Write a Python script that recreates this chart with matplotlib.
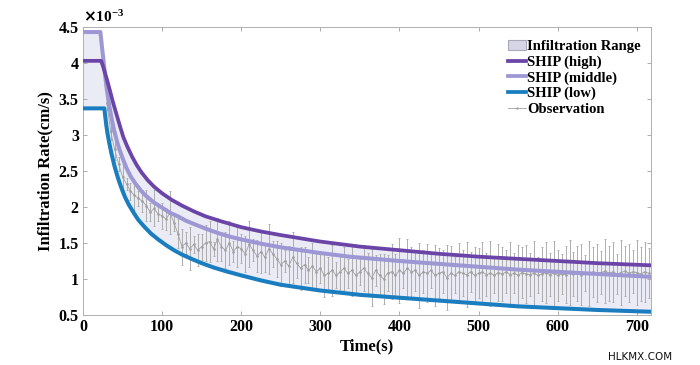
import numpy as np
import matplotlib
matplotlib.use("Agg")
import matplotlib.pyplot as plt
from matplotlib.patches import Patch
from matplotlib.lines import Line2D

# ---- data (values in units of 1e-3 cm/s) ----
t_high = [0, 23, 26, 30, 34, 38, 42, 46, 51, 56, 62, 68, 74, 82, 90, 100, 112, 125, 140,
          155, 175, 200, 225, 250, 300, 350, 400, 450, 500, 550, 600, 650, 718]
v_high = [4.03, 4.03, 3.93, 3.78, 3.62, 3.45, 3.30, 3.15, 2.97, 2.84, 2.70, 2.58, 2.48, 2.37,
          2.28, 2.19, 2.10, 2.02, 1.94, 1.87, 1.80, 1.72, 1.66, 1.61, 1.52, 1.45, 1.40, 1.35,
          1.31, 1.28, 1.25, 1.22, 1.19]

t_mid = [0, 22, 24, 26, 28, 30, 33, 36, 39, 42.5, 46, 50, 55, 60, 66, 73, 80, 90, 100, 110,
         120, 130, 141, 155, 170, 185, 200, 225, 250, 300, 337, 400, 450, 500, 550, 600, 650, 718]
v_mid = [4.43, 4.43, 4.22, 4.03, 3.82, 3.64, 3.42, 3.24, 3.08, 2.93, 2.80, 2.68, 2.54, 2.43,
         2.33, 2.23, 2.15, 2.06, 1.99, 1.92, 1.87, 1.81, 1.76, 1.70, 1.64, 1.59, 1.55, 1.49,
         1.44, 1.36, 1.31, 1.25, 1.21, 1.17, 1.13, 1.10, 1.07, 1.03]

t_low = [0, 27, 28, 29.5, 31, 33, 36, 40, 44, 48, 53, 58, 64, 70, 78, 86, 95, 105, 115, 125,
         137, 150, 165, 180, 200, 225, 250, 275, 300, 350, 400, 450, 500, 550, 600, 650, 718]
v_low = [3.37, 3.37, 3.27, 3.13, 3.02, 2.90, 2.74, 2.56, 2.41, 2.28, 2.14, 2.03, 1.92, 1.82,
         1.72, 1.63, 1.55, 1.47, 1.40, 1.34, 1.28, 1.22, 1.16, 1.11, 1.05, 0.98, 0.92, 0.88,
         0.84, 0.78, 0.74, 0.70, 0.66, 0.62, 0.595, 0.57, 0.545]

t_obs = list(range(30, 716, 5))
v_obs = [3.45, 3.05, 2.80, 2.60, 2.42, 2.32, 2.22, 2.16, 2.12, 2.08,
         2.02, 1.93, 1.98, 1.90, 1.88, 1.83, 1.92, 1.78, 1.63, 1.45,
         1.50, 1.42, 1.48, 1.40, 1.45, 1.50, 1.52, 1.42, 1.55, 1.45,
         1.40, 1.50, 1.38, 1.45, 1.42, 1.35, 1.48, 1.40, 1.32, 1.38,
         1.30, 1.42, 1.35, 1.28, 1.20, 1.25, 1.18, 1.30, 1.22, 1.15,
         1.20, 1.12, 1.18, 1.10, 1.15, 1.05, 1.08, 1.12, 1.05, 1.10,
         1.15, 1.08, 1.12, 1.05, 1.10, 1.15, 1.08, 1.02, 1.12, 1.05,
         1.00, 1.08, 1.10, 1.05, 1.12, 1.08, 1.15, 1.10, 1.12, 1.05,
         1.10, 1.08, 1.12, 1.05, 1.08, 1.10, 1.02, 1.08, 1.05, 1.10,
         1.08, 1.06, 1.10, 1.05, 1.08, 1.10, 1.06, 1.08, 1.05, 1.09,
         1.07, 1.10, 1.06, 1.08, 1.05, 1.09, 1.07, 1.06, 1.08, 1.05,
         1.07, 1.09, 1.06, 1.08, 1.05, 1.07, 1.06, 1.09, 1.07, 1.08,
         1.06, 1.09, 1.08, 1.10, 1.08, 1.09, 1.11, 1.08, 1.10, 1.07,
         1.09, 1.11, 1.08, 1.10, 1.09, 1.07, 1.10, 1.08]
e_obs = [0.10, 0.12, 0.15, 0.10, 0.18, 0.08, 0.12, 0.20, 0.10, 0.15,
         0.22, 0.12, 0.25, 0.10, 0.18, 0.15, 0.30, 0.12, 0.20, 0.25,
         0.15, 0.30, 0.12, 0.22, 0.18, 0.25, 0.28, 0.10, 0.30, 0.20,
         0.25, 0.30, 0.15, 0.28, 0.20, 0.25, 0.32, 0.15, 0.22, 0.30,
         0.20, 0.35, 0.18, 0.25, 0.30, 0.15, 0.28, 0.35, 0.20, 0.30,
         0.25, 0.18, 0.32, 0.25, 0.20, 0.30, 0.22, 0.35, 0.18, 0.25,
         0.30, 0.20, 0.35, 0.25, 0.18, 0.32, 0.28, 0.40, 0.22, 0.30,
         0.35, 0.25, 0.38, 0.30, 0.45, 0.20, 0.40, 0.35, 0.28, 0.45,
         0.30, 0.40, 0.25, 0.42, 0.35, 0.30, 0.45, 0.38, 0.25, 0.40,
         0.32, 0.45, 0.28, 0.40, 0.35, 0.42, 0.30, 0.45, 0.25, 0.40,
         0.38, 0.30, 0.45, 0.28, 0.42, 0.35, 0.40, 0.30, 0.45, 0.25,
         0.38, 0.42, 0.30, 0.45, 0.35, 0.28, 0.40, 0.45, 0.30, 0.38,
         0.42, 0.25, 0.45, 0.35, 0.40, 0.30, 0.45, 0.38, 0.42, 0.28,
         0.45, 0.35, 0.40, 0.30, 0.45, 0.38, 0.42, 0.35]

x_ticks = [0, 100, 200, 300, 400, 500, 600, 700]
y_ticks = [0.5, 1, 1.5, 2, 2.5, 3, 3.5, 4, 4.5]
y_ticklabels = ["0.5", "1", "1.5", "2", "2.5", "3", "3.5", "4", "4.5"]

# ---- style ----
serif = ["Liberation Serif", "DejaVu Serif"]
plt.rcParams["font.family"] = serif
plt.rcParams["font.weight"] = "bold"

c_high = "#6a44a6"
c_mid = "#9d97d4"
c_low = "#1a7dbf"
c_fill = "#ebebf5"
c_obs = "#a0a0a0"

fig = plt.figure(figsize=(7.0, 3.65), dpi=100)
ax = fig.add_axes([83 / 700, 50 / 365, 568 / 700, 288 / 365])

# range fill between low and upper envelope
tg = np.linspace(0, 718, 2873)
hi_g = np.interp(tg, t_high, v_high)
mid_g = np.interp(tg, t_mid, v_mid)
low_g = np.interp(tg, t_low, v_low)
ax.fill_between(tg, low_g, np.maximum(hi_g, mid_g), color=c_fill, lw=0, zorder=1)

# observation
ax.errorbar(t_obs, v_obs, yerr=e_obs, color=c_obs, lw=0.6, elinewidth=0.65,
            marker=".", ms=1.8, capsize=0.8, capthick=0.6, ecolor="#a8a8a8", zorder=2)

ax.plot(t_mid, v_mid, color=c_mid, lw=2.9, zorder=3, solid_capstyle="butt", solid_joinstyle="round")
ax.plot(t_high, v_high, color=c_high, lw=2.7, zorder=4, solid_capstyle="butt", solid_joinstyle="round")
ax.plot(t_low, v_low, color=c_low, lw=2.9, zorder=5, solid_capstyle="butt", solid_joinstyle="round")

ax.set_xlim(0, 718)
ax.set_ylim(0.5, 4.5)
ax.set_xticks(x_ticks)
ax.set_yticks(y_ticks)
ax.set_yticklabels(y_ticklabels)
ax.tick_params(direction="in", top=True, right=True, length=3, width=0.6,
               color="#a0a0a0", labelsize=11.5, pad=3)
for lab in ax.get_xticklabels() + ax.get_yticklabels():
    lab.set_fontweight("bold")
for s in ax.spines.values():
    s.set_color("#b0b0b0")
    s.set_linewidth(0.7)

ax.set_xlabel("Time(s)", fontsize=12, fontweight="bold", labelpad=2)
ax.set_ylabel("Infiltration Rate(cm/s)", fontsize=12, fontweight="bold", labelpad=4)
ax.text(0.0, 1.008, r"$\times\mathregular{10^{-3}}$", transform=ax.transAxes,
        fontsize=11, ha="left", va="bottom")

handles = [
    Patch(facecolor="#d6d6e6", edgecolor="#a8a8b8", lw=0.8, label="Infiltration Range"),
    Line2D([], [], color=c_high, lw=2.7, label="SHIP (high)"),
    Line2D([], [], color=c_mid, lw=2.7, label="SHIP (middle)"),
    Line2D([], [], color=c_low, lw=2.7, label="SHIP (low)"),
    Line2D([], [], color=c_obs, lw=0.6, marker=".", ms=1.5, label="Observation"),
]
leg = ax.legend(handles=handles, loc="upper right", bbox_to_anchor=(1.0, 0.99),
                frameon=False, fontsize=10.5, handlelength=1.2, handletextpad=0.1,
                labelspacing=0.15, borderaxespad=0.3)
for tx in leg.get_texts():
    tx.set_fontweight("bold")

fig.text(640 / 700, 1 - 357 / 365, "HLKMX.COM", family="DejaVu Sans",
         fontsize=7.5, fontweight="normal", ha="center", va="center", color="#111111")

fig.savefig("out.png", dpi=100)
